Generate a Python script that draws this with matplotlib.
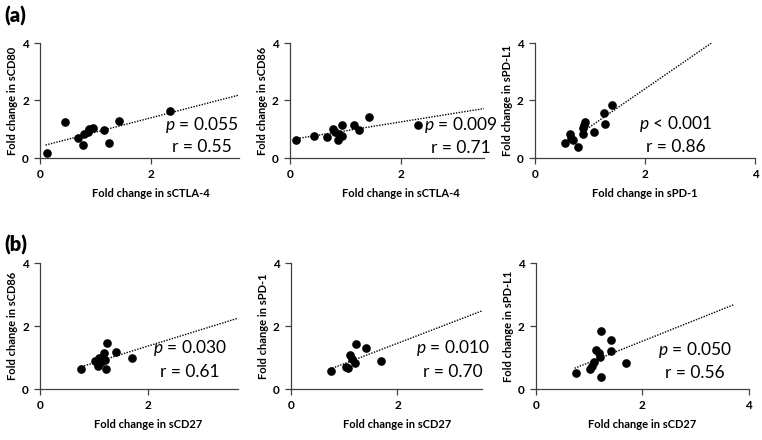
import matplotlib
matplotlib.use('Agg')
import matplotlib.pyplot as plt

plt.rcParams['font.family'] = ['Lato', 'DejaVu Sans']
plt.rcParams['mathtext.fontset'] = 'custom'
plt.rcParams['mathtext.it'] = 'Lato:italic'
plt.rcParams['mathtext.rm'] = 'Lato'

# Données
# (a) gauche : sCTLA-4 vs sCD80
ctla4_a1 = [0.12, 0.45, 0.68, 0.78, 0.80, 0.86, 0.88, 0.95, 1.16, 1.24, 1.42, 2.33]
cd80_a1 = [0.19, 1.25, 0.70, 0.46, 0.83, 0.90, 1.01, 1.04, 0.97, 0.52, 1.30, 1.65]
trend_x_a1 = [0.10, 3.58]
trend_y_a1 = [0.45, 2.19]

# (a) milieu : sCTLA-4 vs sCD86
ctla4_a2 = [0.11, 0.44, 0.68, 0.78, 0.82, 0.87, 0.89, 0.94, 0.95, 1.16, 1.25, 1.42, 2.32]
cd86_a2 = [0.61, 0.75, 0.73, 1.00, 0.90, 0.61, 0.83, 0.78, 1.16, 1.15, 0.97, 1.44, 1.14]
trend_x_a2 = [0.08, 3.50]
trend_y_a2 = [0.66, 1.72]

# (a) droite : sPD-1 vs sPD-L1
pd1_a3 = [0.55, 0.64, 0.66, 0.69, 0.79, 0.87, 0.87, 0.89, 0.92, 1.07, 1.25, 1.27, 1.40]
pdl1_a3 = [0.52, 0.82, 0.71, 0.64, 0.37, 0.82, 1.04, 1.14, 1.24, 0.90, 1.55, 1.19, 1.83]
trend_x_a3 = [0.90, 3.22]
trend_y_a3 = [0.95, 4.02]

# (b) gauche : sCD27 vs sCD86
cd27_b1 = [0.76, 1.03, 1.07, 1.10, 1.13, 1.19, 1.23, 1.20, 1.24, 1.42, 1.70]
cd86_b1 = [0.63, 0.89, 0.74, 1.00, 0.87, 1.16, 0.65, 0.92, 1.45, 1.17, 1.00]
trend_x_b1 = [0.77, 3.67]
trend_y_b1 = [0.71, 2.25]

# (b) milieu : sCD27 vs sPD-1
cd27_b2 = [0.76, 1.03, 1.08, 1.11, 1.14, 1.21, 1.23, 1.42, 1.70]
pd1_b2 = [0.57, 0.71, 0.68, 1.08, 0.94, 0.84, 1.42, 1.29, 0.89]
trend_x_b2 = [0.78, 3.59]
trend_y_b2 = [0.66, 2.49]

# (b) droite : sCD27 vs sPD-L1
cd27_b3 = [0.76, 1.02, 1.06, 1.09, 1.13, 1.18, 1.20, 1.22, 1.23, 1.42, 1.41, 1.69]
pdl1_b3 = [0.52, 0.64, 0.74, 0.87, 1.24, 1.14, 1.03, 0.37, 1.85, 1.56, 1.21, 0.82]
trend_x_b3 = [0.73, 3.73]
trend_y_b3 = [0.66, 2.69]

W, H = 762, 440
fig = plt.figure(figsize=(W / 100, H / 100), dpi=100)


def add_panel(rect_px, xmax, x, y, tx, ty, xlabel, ylabel, p_txt, r_txt, txt_pos):
    left, top, right, bottom = rect_px
    ax = fig.add_axes([left / W, 1 - bottom / H, (right - left) / W, (bottom - top) / H])
    ax.plot(x, y, 'o', color='black', markersize=5.2, zorder=3)
    ax.plot(tx, ty, color='black', linestyle=(0, (1, 1)), linewidth=1.0, zorder=2)
    # les ticks d'abord, sinon set_xticks élargit les limites
    ax.set_xticks([t for t in [0, 2, 4] if t <= xmax])
    ax.set_yticks([0, 2, 4])
    ax.set_xlim(0, xmax)
    ax.set_ylim(0, 4)
    for s in ['top', 'right']:
        ax.spines[s].set_visible(False)
    for s in ['left', 'bottom']:
        ax.spines[s].set_color('#404040')
        ax.spines[s].set_linewidth(0.9)
    ax.tick_params(direction='out', length=4, width=0.9, color='#404040', pad=4,
                   labelsize=8.5)
    for lab in ax.get_xticklabels() + ax.get_yticklabels():
        lab.set_fontweight('bold')
    ax.set_xlabel(xlabel, fontsize=8, fontweight='bold', labelpad=6)
    ax.xaxis.label.set_x(2 / xmax)
    ax.set_ylabel(ylabel, fontsize=8, fontweight='bold', labelpad=3)
    cx, py, ry = txt_pos
    fig.text(cx / W, 1 - py / H, p_txt, ha='center', va='center', fontsize=12.5)
    fig.text(cx / W, 1 - ry / H, r_txt, ha='center', va='center', fontsize=12.5)
    return ax


add_panel((40, 43, 239, 158), 3.58, ctla4_a1, cd80_a1, trend_x_a1, trend_y_a1,
          'Fold change in sCTLA-4', 'Fold change in sCD80',
          '$p$ = 0.055', 'r = 0.55', (202, 125, 147))
add_panel((289.7, 43, 484, 158), 3.50, ctla4_a2, cd86_a2, trend_x_a2, trend_y_a2,
          'Fold change in sCTLA-4', 'Fold change in sCD86',
          '$p$ = 0.009', 'r = 0.71', (460.5, 125, 148))
add_panel((534.7, 43, 755.3, 158), 4.0, pd1_a3, pdl1_a3, trend_x_a3, trend_y_a3,
          'Fold change in sPD-1', 'Fold change in sPD-L1',
          '$p$ < 0.001', 'r = 0.86', (675.5, 124, 146.7))
add_panel((40, 263.3, 237.7, 389), 3.67, cd27_b1, cd86_b1, trend_x_b1, trend_y_b1,
          'Fold change in sCD27', 'Fold change in sCD86',
          '$p$ = 0.030', 'r = 0.61', (190, 348.3, 371.7))
add_panel((290.7, 263.3, 482.3, 389), 3.59, cd27_b2, pd1_b2, trend_x_b2, trend_y_b2,
          'Fold change in sCD27', 'Fold change in sPD-1',
          '$p$ = 0.010', 'r = 0.70', (453, 348.3, 371.7))
add_panel((535.7, 263.3, 748.7, 389), 4.0, cd27_b3, pdl1_b3, trend_x_b3, trend_y_b3,
          'Fold change in sCD27', 'Fold change in sPD-L1',
          '$p$ = 0.050', 'r = 0.56', (695, 350, 373.3))

# Étiquettes des panneaux
fig.text(4 / W, 1 - 16 / H, '(a)', fontsize=14.5, fontweight='heavy', va='center')
fig.text(4 / W, 1 - 245 / H, '(b)', fontsize=14.5, fontweight='heavy', va='center')

fig.savefig('out.png', dpi=100)
